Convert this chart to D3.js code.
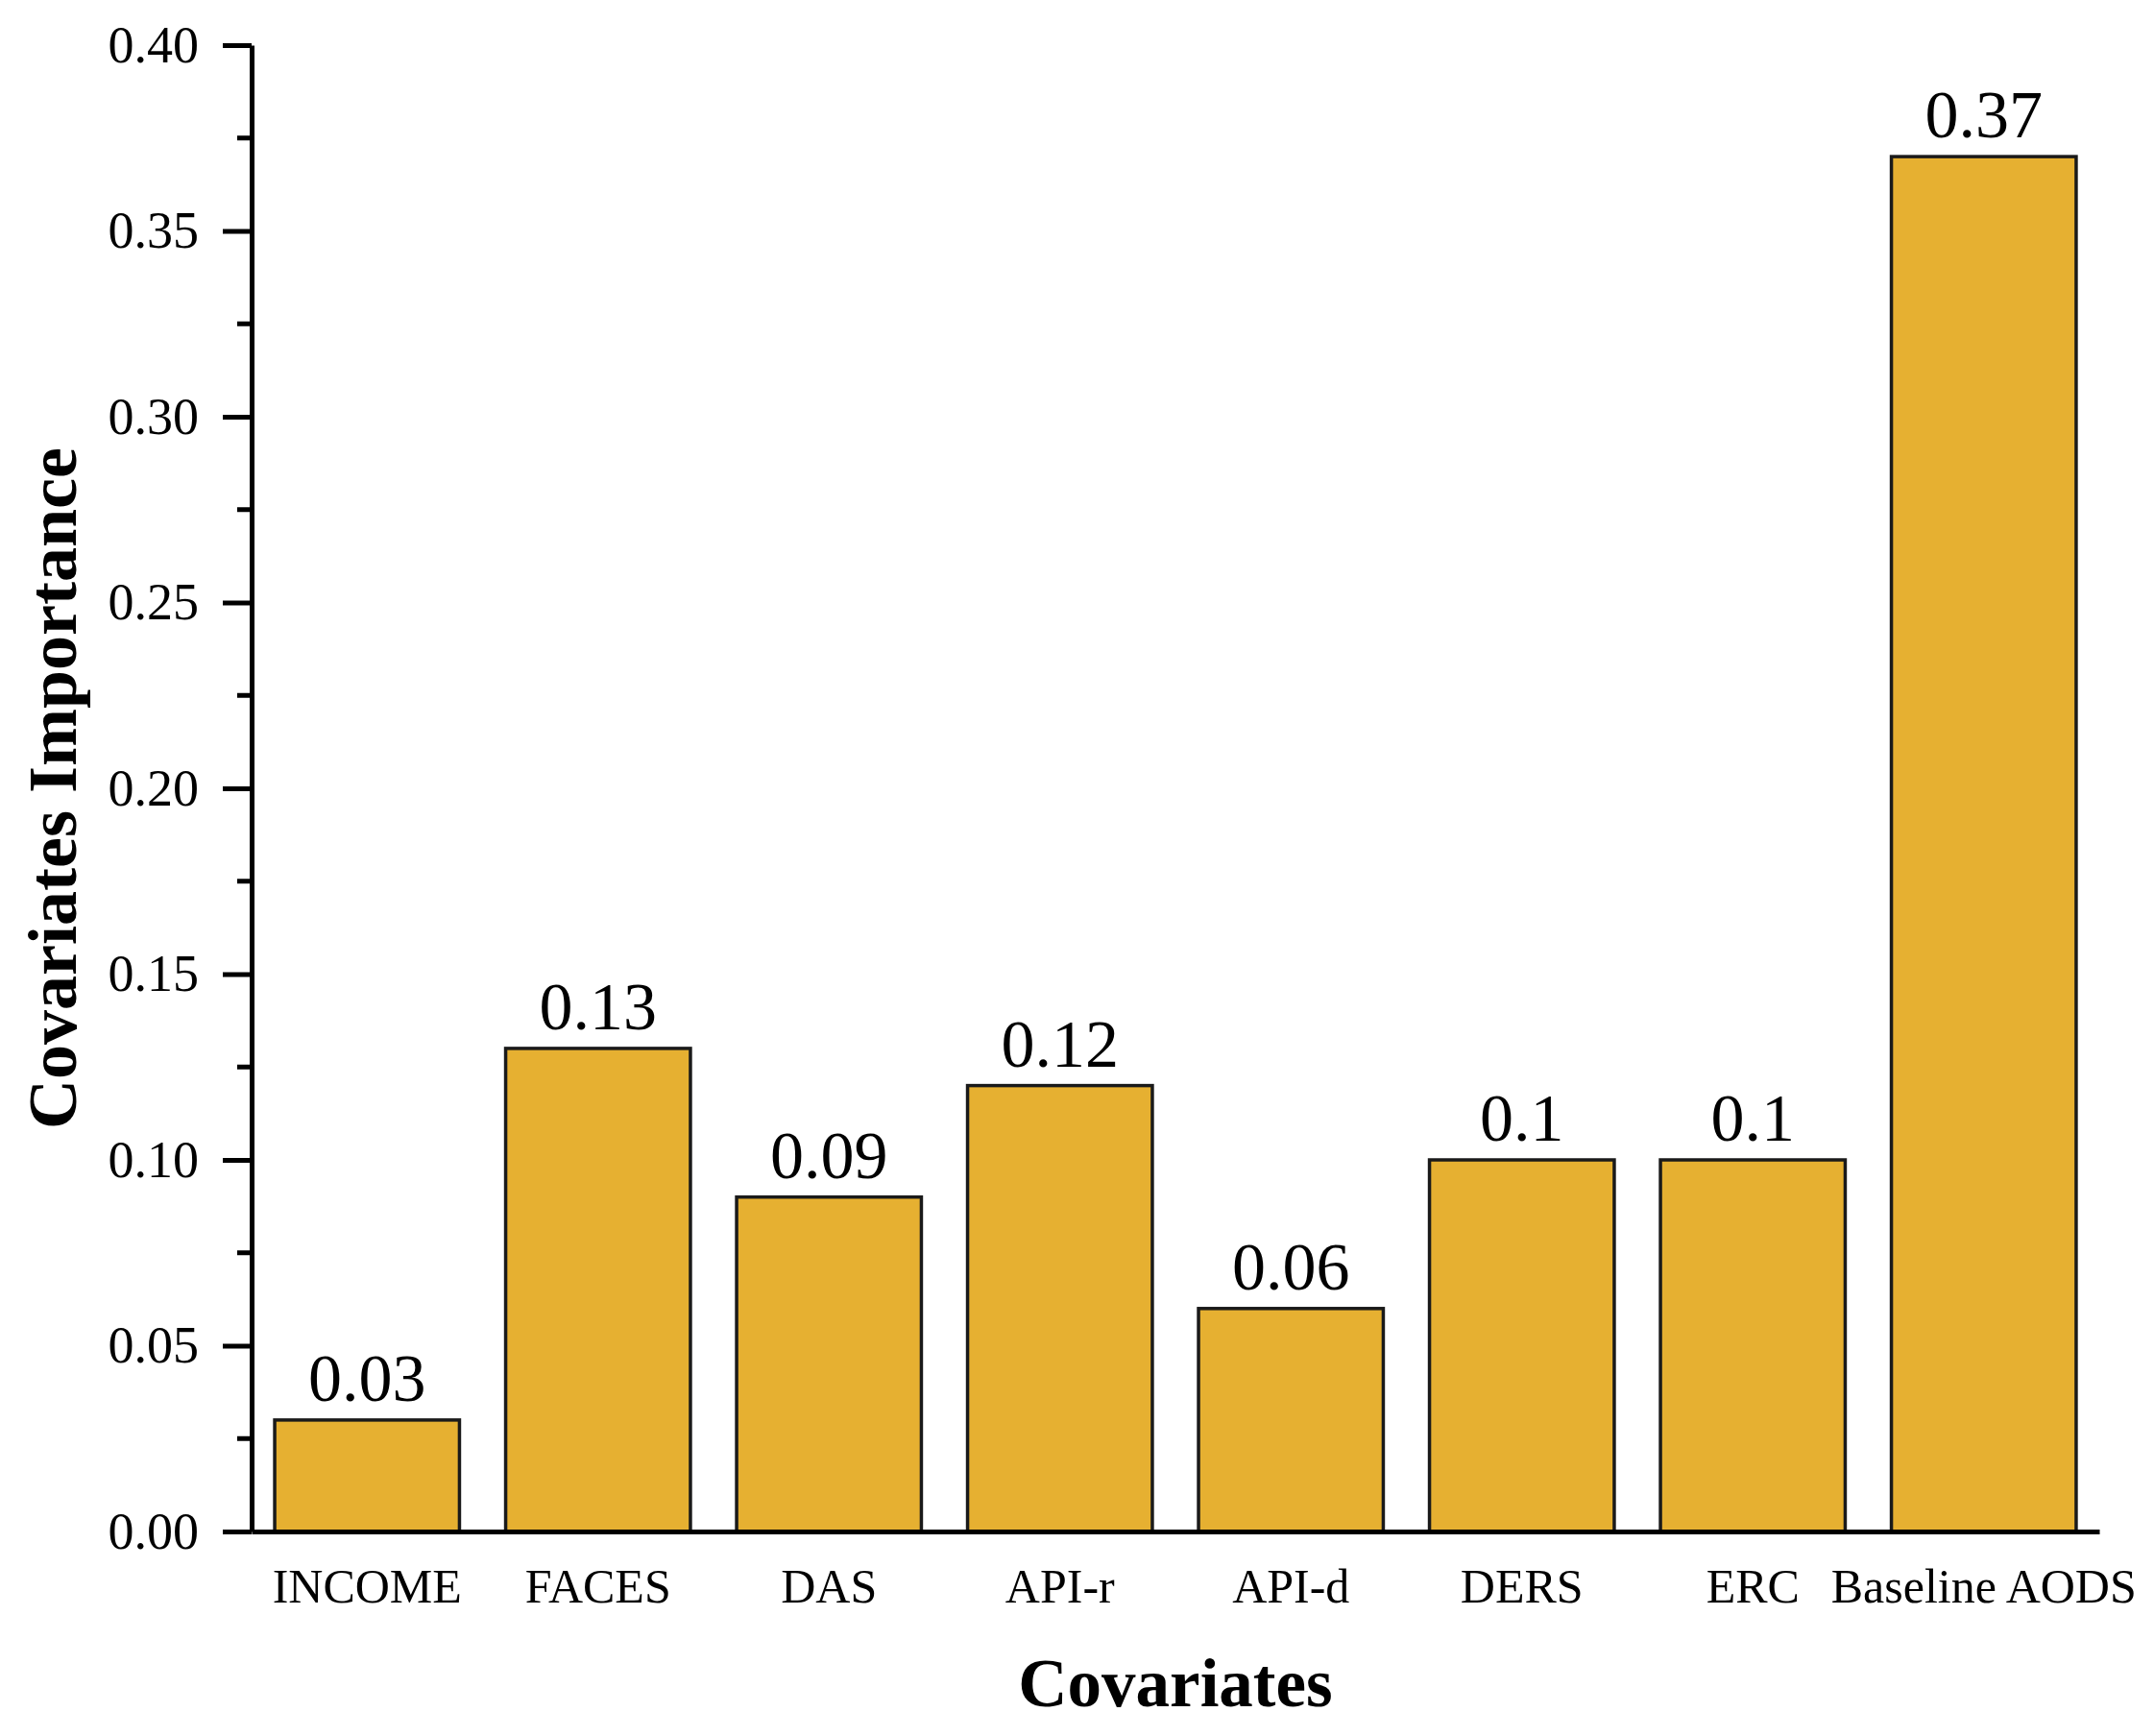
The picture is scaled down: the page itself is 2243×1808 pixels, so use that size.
<!DOCTYPE html>
<html>
<head>
<meta charset="utf-8">
<script src="https://cdn.jsdelivr.net/npm/d3@7"></script>
<style>
  body { margin: 0; background: #fff; }
  svg { display: block; }
  text { font-family: "Liberation Serif", "Times New Roman", serif; fill: #000; }
</style>
</head>
<body>
<div id="chart"></div>
<script>
const categories = ['INCOME', 'FACES', 'DAS', 'API-r', 'API-d', 'DERS', 'ERC', 'Baseline AODS'];
const importance = [0.03, 0.13, 0.09, 0.12, 0.06, 0.1, 0.1, 0.37];
const valueLabels = ['0.03', '0.13', '0.09', '0.12', '0.06', '0.1', '0.1', '0.37'];
const yTicks = [0, 0.05, 0.1, 0.15, 0.2, 0.25, 0.3, 0.35, 0.4];
const yMinorTicks = [0.025, 0.075, 0.125, 0.175, 0.225, 0.275, 0.325, 0.375];

const W = 2243, H = 1808;
const margin = { top: 47, right: 57, bottom: 213, left: 262 };
const width = W - margin.left - margin.right;
const height = H - margin.top - margin.bottom;

const svg = d3.select('#chart')
  .append('svg')
  .attr('width', W)
  .attr('height', H);

const g = svg.append('g')
  .attr('transform', `translate(${margin.left}, ${margin.top})`);

const x = d3.scaleBand()
  .domain(categories)
  .range([0, width])
  .paddingInner(0.2)
  .paddingOuter(0.1);

const y = d3.scaleLinear()
  .domain([0, 0.4])
  .range([height, 0]);

// bars
g.append('g')
  .selectAll('rect')
  .data(importance)
  .enter()
  .append('rect')
  .attr('x', (d, i) => x(categories[i]))
  .attr('y', d => y(d))
  .attr('width', x.bandwidth())
  .attr('height', d => y(0) - y(d))
  .attr('fill', '#E6B031')
  .attr('stroke', '#1a1a1a')
  .attr('stroke-width', 3.5);

// value labels
g.append('g')
  .selectAll('text')
  .data(importance)
  .enter()
  .append('text')
  .attr('x', (d, i) => x(categories[i]) + x.bandwidth() / 2)
  .attr('y', d => y(d) - 20)
  .attr('text-anchor', 'middle')
  .style('font-size', '70px')
  .text((d, i) => valueLabels[i]);

// y axis
const yAxis = g.append('g')
  .call(d3.axisLeft(y)
    .tickValues(yTicks)
    .tickFormat(d3.format('.2f'))
    .tickSize(30)
    .tickSizeOuter(0)
    .tickPadding(25));

yAxis.select('.domain').attr('stroke-width', 5).attr('stroke', '#000');
yAxis.selectAll('.tick line').attr('stroke-width', 5).attr('stroke', '#000');
yAxis.selectAll('.tick text')
  .style('font-size', '54px')
  .style('font-family', '"Liberation Serif", "Times New Roman", serif');

g.append('g')
  .selectAll('line')
  .data(yMinorTicks)
  .enter()
  .append('line')
  .attr('x1', -15)
  .attr('x2', 0)
  .attr('y1', d => y(d))
  .attr('y2', d => y(d))
  .attr('stroke', '#000')
  .attr('stroke-width', 5);

// x axis
const xAxis = g.append('g')
  .attr('transform', `translate(0, ${height})`)
  .call(d3.axisBottom(x)
    .tickSize(0)
    .tickSizeOuter(0)
    .tickPadding(38));

xAxis.select('.domain').attr('stroke-width', 5).attr('stroke', '#000');
xAxis.selectAll('.tick text')
  .style('font-size', '50px')
  .style('font-family', '"Liberation Serif", "Times New Roman", serif');

// axis titles
g.append('text')
  .attr('x', width / 2)
  .attr('y', height + 182)
  .attr('text-anchor', 'middle')
  .style('font-size', '71px')
  .style('font-weight', 'bold')
  .text('Covariates');

g.append('text')
  .attr('transform', `translate(${79 - margin.left}, ${height / 2}) rotate(-90)`)
  .attr('text-anchor', 'middle')
  .style('font-size', '72px')
  .style('font-weight', 'bold')
  .text('Covariates Importance');
</script>
</body>
</html>
